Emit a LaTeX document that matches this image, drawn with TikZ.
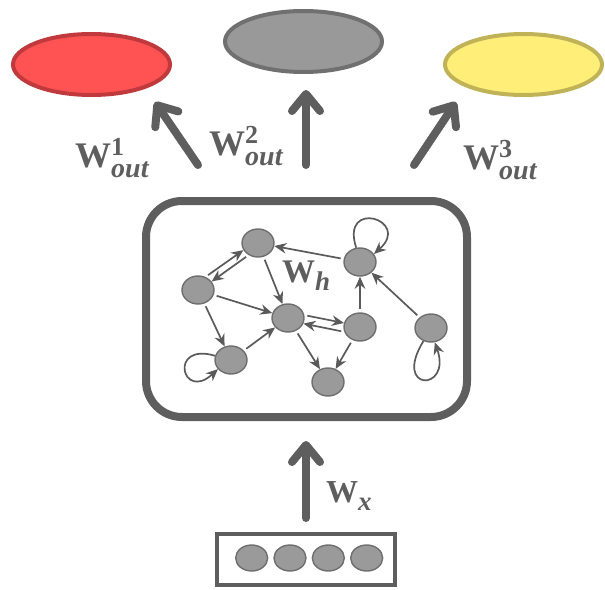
\documentclass[tikz,border=0pt]{standalone}
\usepackage{fontspec}
\setmainfont{Liberation Serif}
\usetikzlibrary{arrows.meta, shapes.geometric}

\definecolor{ink}{HTML}{5E5E5E}
\definecolor{edge}{HTML}{5A5A5A}
\definecolor{unitfill}{HTML}{9A9A9A}
\definecolor{unitline}{HTML}{6E6E6E}
\definecolor{redfill}{HTML}{FF5252}
\definecolor{redline}{HTML}{C03A3D}
\definecolor{grayfill}{HTML}{999999}
\definecolor{grayline}{HTML}{707070}
\definecolor{yelfill}{HTML}{FFEF78}
\definecolor{yelline}{HTML}{C0B257}

% weight symbol: W with italic subscript and optional superscript
\newcommand{\wsym}[5]{%
  {\fontsize{#1}{#1}\selectfont\bfseries W}%
  \makebox[0pt][l]{\raisebox{12pt}{\fontsize{26}{26}\selectfont\bfseries #3}}%
  \raisebox{-#4}{\fontsize{#5}{#5}\selectfont\bfseries\itshape #2}}

\tikzset{
  outnode/.style={ellipse, minimum width=157pt, minimum height=61pt, line width=4pt, inner sep=0pt},
  unit/.style={ellipse, fill=unitfill, draw=unitline, line width=1.4pt,
               minimum width=32pt, minimum height=28pt, inner sep=0pt},
  inunit/.style={unit, minimum width=32pt, minimum height=26pt},
  bigarrow/.style={draw=ink, line width=8pt, line cap=round,
                   -{Straight Barb[length=17pt, width=28pt, line cap=round, line join=round]}},
  e/.style={draw=edge, line width=1.7pt, shorten <=3pt,
            -{Stealth[length=12pt, width=10.5pt]}},
  wlabel/.style={text=ink, inner sep=0pt, anchor=base west},
}

\begin{document}
\begin{tikzpicture}[x=1pt, y=-1pt]
\useasboundingbox (0,0) rectangle (605,589);

% output layers
\node[outnode, fill=redfill, draw=redline]   (o1) at (91.5,64.5) {};
\node[outnode, fill=grayfill, draw=grayline] (o2) at (303.5,41.5) {};
\node[outnode, fill=yelfill, draw=yelline]   (o3) at (523.5,64.5) {};

% recurrent reservoir
\node[draw=ink, line width=8pt, rounded corners=36pt,
      minimum width=321pt, minimum height=216pt, inner sep=0pt] (res) at (306.5,309) {};

% anchors for the thick arrows
\coordinate (t1) at (198,165);
\coordinate (h1) at (155,102);
\coordinate (t2) at (306,165);
\coordinate (h2) at (306,90);
\coordinate (t3) at (414,165);
\coordinate (h3) at (456,102);
\coordinate (tx) at (306,518);
\coordinate (hx) at (306,441);

\draw[bigarrow] (t1) -- (h1);
\draw[bigarrow] (t2) -- (h2);
\draw[bigarrow] (t3) -- (h3);
\draw[bigarrow] (tx) -- (hx);

\node[wlabel] (l1) at (75,167) {\wsym{36}{out}{1}{10pt}{28}};
\node[wlabel] (l2) at (209,155) {\wsym{36}{out}{2}{10pt}{28}};
\node[wlabel] (l3) at (463,169) {\wsym{36}{out}{3}{10pt}{28}};

% units inside the reservoir
\node[unit] (n1) at (258,243) {};
\node[unit] (n2) at (198,290) {};
\node[unit] (n3) at (288,318) {};
\node[unit] (n4) at (360,327) {};
\node[unit] (n5) at (360,262) {};
\node[unit] (n6) at (431,328) {};
\node[unit] (n7) at (231,360) {};
\node[unit] (n8) at (328,382) {};

\node[wlabel] (lh) at (282,282) {\wsym{33}{h}{}{8pt}{27}};

% recurrent connections
\draw[e] (n2.60) -- (n1.206);
\draw[e] (n1.232) -- (n2.32);
\draw[e] (n1) -- (n3);
\draw[e] (n2) -- (n3);
\draw[e] (n2) -- (n7);
\draw[e] (n7) -- (n3);
\draw[e] (n3.10) -- (n4.166);
\draw[e] (n4.197) -- (n3.-20);
\draw[e] (n3) -- (n8);
\draw[e] (n4) -- (n8);
\draw[e] (n4) -- (n5);
\draw[e] (n6) -- (n5);
\draw[e] (n5) -- (n1);

% self loops
\draw[e, shorten <=0pt] (n5.105) .. controls (340,198) and (412,220) .. (n5.30);
\draw[e, shorten <=0pt] (n7.165) .. controls (168,342) and (182,402) .. (n7.215);
\draw[e, shorten <=0pt] (n6.240) .. controls (392,392) and (452,392) .. (n6.-75);

% input layer
\node[draw=ink, line width=3.5pt, minimum width=178pt, minimum height=51pt,
      inner sep=0pt] (inp) at (306,559.5) {};
\node[inunit] (x1) at (251.7,558) {};
\node[inunit] (x2) at (290,558) {};
\node[inunit] (x3) at (328.3,558) {};
\node[inunit] (x4) at (366.7,558) {};

\node[wlabel] (lx) at (326,502) {\wsym{32}{x}{}{8pt}{27}};
\end{tikzpicture}
\end{document}
